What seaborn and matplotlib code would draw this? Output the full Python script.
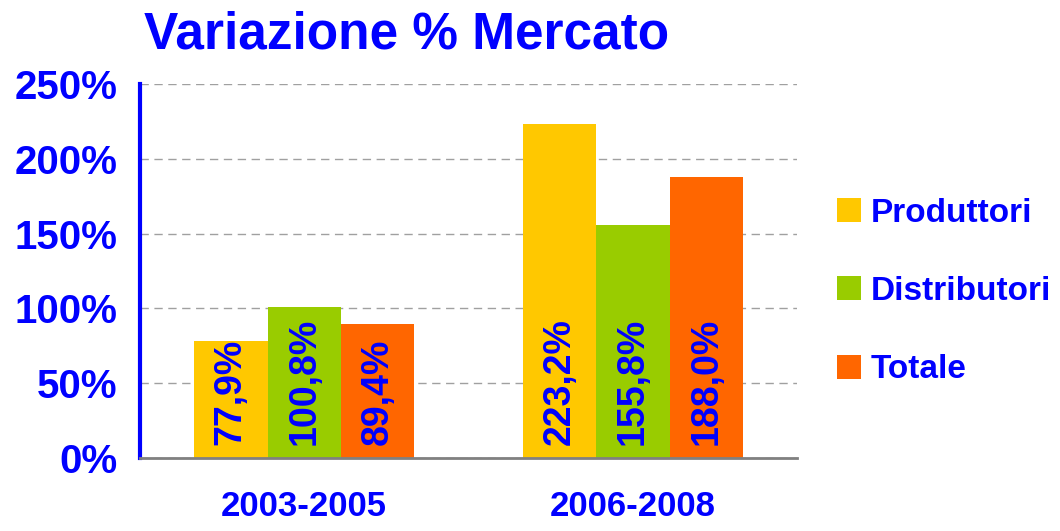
import numpy as np
import pandas as pd
import matplotlib
matplotlib.use("Agg")
import matplotlib.pyplot as plt
import seaborn as sns

periodi = ['2003-2005', '2006-2008']
serie = ['Produttori', 'Distributori', 'Totale']
produttori = [77.9, 223.2]
distributori = [100.8, 155.8]
totale = [89.4, 188.0]
colori = ['#FFC800', '#99CC00', '#FF6600']
yticks = [0, 50, 100, 150, 200, 250]

df = pd.DataFrame({
    'periodo': periodi * 3,
    'serie': [s for s in serie for _ in periodi],
    'valore': produttori + distributori + totale,
})

sns.set_style('white')
plt.rcParams['font.family'] = ['Liberation Sans', 'DejaVu Sans']
plt.rcParams['font.weight'] = 'bold'
blu = '#0000FF'

fig = plt.figure(figsize=(10.6, 5.31), dpi=100)
ax = fig.add_axes([0.132, 0.1375, 0.62, 0.7045])

sns.barplot(data=df, x='periodo', y='valore', hue='serie', palette=colori,
            width=0.67, saturation=1, ax=ax, errorbar=None, linewidth=0)

# etichette ruotate dentro le barre
for cont in ax.containers:
    for bar in cont:
        v = bar.get_height()
        lab = f"{v:.1f}%".replace('.', ',')
        ax.annotate(lab, (bar.get_x() + bar.get_width() / 2, 0),
                    xytext=(0, 9), textcoords='offset points',
                    rotation=90, ha='center', va='bottom',
                    color=blu, fontsize=27, fontweight='bold')

ax.set_xlim(-0.5, 1.5)
ax.set_ylim(0, 250)
ax.set_yticks(yticks)
ax.set_yticklabels([f"{t}%" for t in yticks], color=blu, fontsize=29, fontweight='bold')
ax.yaxis.grid(True, linestyle=(0, (6, 4)), color='#A0A0A0', linewidth=1)
ax.set_axisbelow(True)
ax.tick_params(axis='y', length=10, width=3, color=blu, direction='out', pad=6)

ax.set_xticks([0, 1])
ax.set_xticklabels(periodi, fontsize=25, fontweight='bold', color=blu)
ax.tick_params(axis='x', length=0, pad=23)
ax.set_xticks([-0.5, 0.5, 1.5], minor=True)
ax.tick_params(axis='x', which='minor', length=7, width=1, color='black', direction='out')
ax.set_xlabel('')
ax.set_ylabel('')

for s in ['top', 'right']:
    ax.spines[s].set_visible(False)
ax.spines['left'].set_color(blu)
ax.spines['left'].set_linewidth(3)
ax.spines['bottom'].set_color('#808080')
ax.spines['bottom'].set_linewidth(2)

h, l = ax.get_legend_handles_labels()
ax.legend(h, l, loc='center left', bbox_to_anchor=(1.015, 0.445), frameon=False,
          prop={'size': 24, 'weight': 'bold'}, labelcolor=blu,
          handlelength=0.72, handleheight=0.72, handletextpad=0.3,
          labelspacing=1.42)

fig.text(0.384, 0.935, 'Variazione % Mercato', ha='center', va='center',
         fontsize=37, fontweight='bold', color=blu)

fig.savefig('out.png', dpi=100)
